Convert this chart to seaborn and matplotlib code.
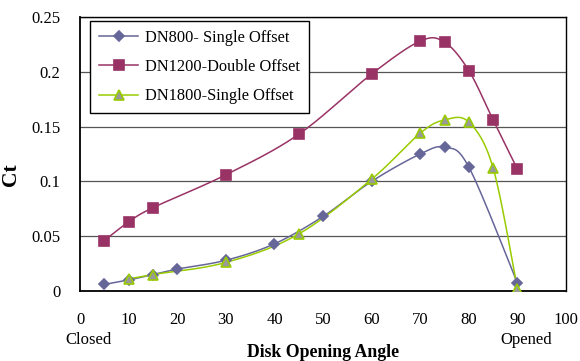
import numpy as np
import pandas as pd
import seaborn as sns
import matplotlib
matplotlib.use("Agg")
import matplotlib.pyplot as plt

# Disk opening angle (deg) and torque coefficient Ct for each valve
angle_dn800 = [5, 10, 15, 20, 30, 40, 50, 60, 70, 75, 80, 90]
ct_dn800 = [0.006, 0.010, 0.015, 0.020, 0.028, 0.043, 0.068, 0.100, 0.125, 0.131, 0.113, 0.007]

angle_dn1200 = [5, 10, 15, 30, 45, 60, 70, 75, 80, 85, 90]
ct_dn1200 = [0.046, 0.063, 0.076, 0.106, 0.143, 0.198, 0.228, 0.227, 0.201, 0.156, 0.111]

angle_dn1800 = [10, 15, 30, 45, 60, 70, 75, 80, 85, 90]
ct_dn1800 = [0.011, 0.015, 0.026, 0.052, 0.102, 0.144, 0.156, 0.154, 0.112, 0.002]

series_names = ["DN800- Single Offset", "DN1200-Double Offset", "DN1800-Single Offset"]
x_ticks = [0, 10, 20, 30, 40, 50, 60, 70, 80, 90, 100]
y_ticks = [0, 0.05, 0.1, 0.15, 0.2, 0.25]
y_tick_labels = ["0", "0.05", "0.1", "0.15", "0.2", "0.25"]


def smooth_curve(x, y, n=30):
    """Catmull-Rom style smoothed polyline through the data points."""
    x = np.asarray(x, float)
    y = np.asarray(y, float)
    px = np.concatenate([[x[0]], x, [x[-1]]])
    py = np.concatenate([[y[0]], y, [y[-1]]])
    xs, ys = [], []
    t = np.linspace(0, 1, n)
    for i in range(1, len(px) - 2):
        p0 = np.array([px[i - 1], py[i - 1]])
        p1 = np.array([px[i], py[i]])
        p2 = np.array([px[i + 1], py[i + 1]])
        p3 = np.array([px[i + 2], py[i + 2]])
        c1 = p1 + (p2 - p0) / 6.0
        c2 = p2 - (p3 - p1) / 6.0
        b = ((1 - t) ** 3)[:, None] * p1 + (3 * (1 - t) ** 2 * t)[:, None] * c1 \
            + (3 * (1 - t) * t ** 2)[:, None] * c2 + (t ** 3)[:, None] * p2
        xs.extend(b[:, 0])
        ys.extend(b[:, 1])
    return np.array(xs), np.array(ys)


plt.rcParams["font.family"] = ["Liberation Serif", "DejaVu Serif"]
fig = plt.figure(figsize=(5.8, 3.61), dpi=100)
ax = fig.add_axes([0.138, 0.194, 0.838, 0.759])

styles = [
    dict(line="#666699", marker="D", face="#666699", edge="#666699", size=5.5),
    dict(line="#993366", marker="s", face="#993366", edge="#993366", size=6.5),
    dict(line="#99cc00", marker="^", face="#999999", edge="#99cc00", size=7.5),
]
data = [(angle_dn800, ct_dn800), (angle_dn1200, ct_dn1200), (angle_dn1800, ct_dn1800)]

for name, (xv, yv), st in zip(series_names, data, styles):
    sx, sy = smooth_curve(xv, yv)
    sns.lineplot(x=sx, y=sy, sort=False, color=st["line"], lw=1.1, ax=ax, zorder=3)
    df = pd.DataFrame({"angle": xv, "ct": yv})
    ax.plot(df["angle"], df["ct"], ls="none", marker=st["marker"],
            ms=st["size"], mfc=st["face"], mec=st["edge"], mew=1.2, zorder=4)
    # legend proxy
    ax.plot([], [], color=st["line"], lw=1.1, marker=st["marker"], ms=st["size"],
            mfc=st["face"], mec=st["edge"], mew=1.2, label=name)

ax.set_xlim(0, 100)
ax.set_ylim(0, 0.25)
ax.set_xticks(x_ticks)
ax.set_xticklabels([str(v) for v in x_ticks])
ax.set_yticks(y_ticks)
ax.set_yticklabels(y_tick_labels)
ax.tick_params(axis="both", length=0, labelsize=12, colors="black")
ax.tick_params(axis="x", pad=15)
ax.tick_params(axis="y", pad=14)
ax.yaxis.grid(True, color="#555555", lw=0.9)
ax.xaxis.grid(False)
ax.set_axisbelow(True)
for side in ["left", "bottom", "top", "right"]:
    ax.spines[side].set_color("black")
    ax.spines[side].set_linewidth(1.0)
ax.spines["left"].set_linewidth(1.3)
ax.spines["bottom"].set_linewidth(1.3)

ax.set_ylabel("Ct", fontsize=15.5, fontweight="bold")
ax.yaxis.set_label_coords(-0.121, 0.423)
ax.set_xlabel("Disk Opening Angle", fontsize=12.8, fontweight="bold")
ax.xaxis.set_label_coords(0.5, -0.195)
fig.text(88.5 / 580, 1 - 340 / 361, "Closed", ha="center", va="center", fontsize=12)
fig.text(526 / 580, 1 - 340 / 361, "Opened", ha="center", va="center", fontsize=12)

leg = ax.legend(loc="upper left", bbox_to_anchor=(0.0206, 0.985), borderaxespad=0,
                fontsize=11.8, frameon=True, fancybox=False, edgecolor="black",
                framealpha=1, handlelength=2.4, labelspacing=0.8, borderpad=0.55,
                handletextpad=0.4)
leg.get_frame().set_linewidth(1.0)

fig.savefig("out.png", dpi=100)
